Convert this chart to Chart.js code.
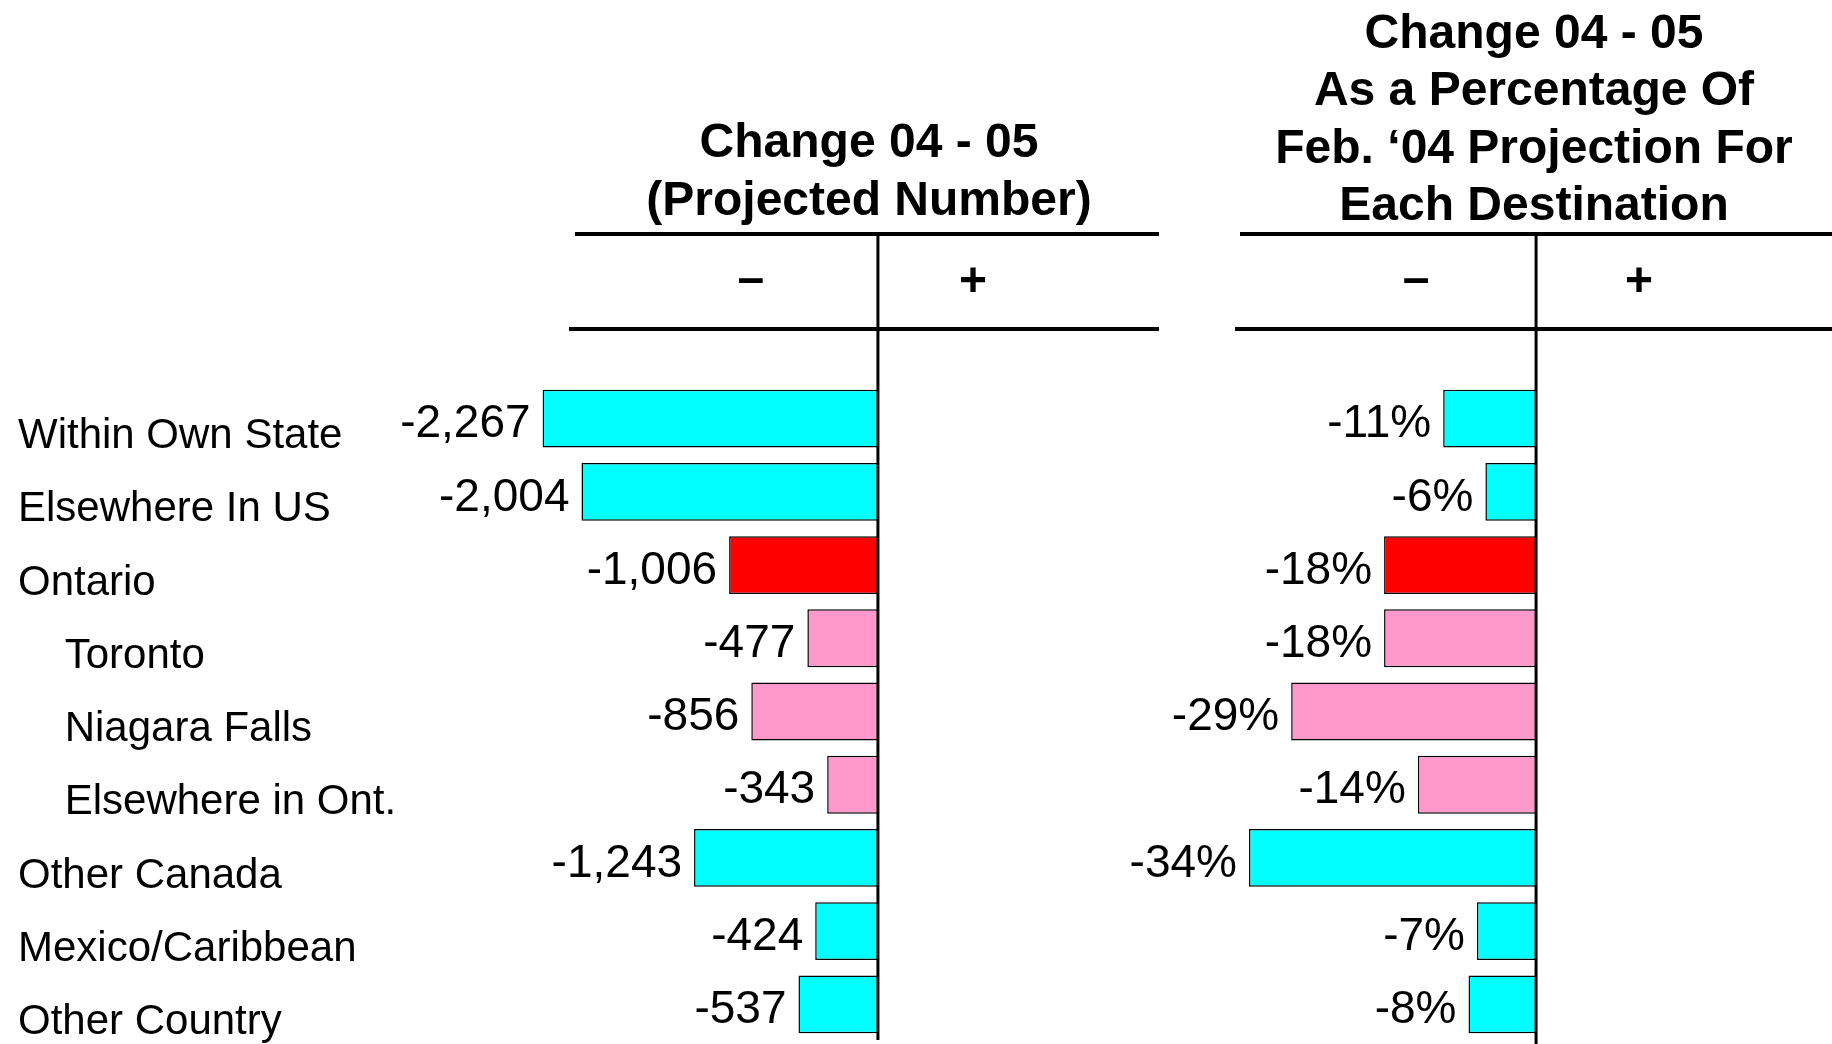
<!DOCTYPE html>
<html>
<head>
<meta charset="utf-8">
<script src="https://cdn.jsdelivr.net/npm/chart.js@4"></script>
<style>
  html, body { margin: 0; padding: 0; background: #fff; }
  body { width: 1832px; height: 1044px; position: relative; overflow: hidden; }
  #leftChart { position: absolute; left: 0; top: 0; }
  #rightChart { position: absolute; left: 1100px; top: 0; }
</style>
</head>
<body>
<canvas id="leftChart" width="1180" height="1044"></canvas>
<canvas id="rightChart" width="732" height="1044"></canvas>
<script>
const categories = ['Within Own State', 'Elsewhere In US', 'Ontario', 'Toronto', 'Niagara Falls',
  'Elsewhere in Ont.', 'Other Canada', 'Mexico/Caribbean', 'Other Country'];
const indented = ['Toronto', 'Niagara Falls', 'Elsewhere in Ont.'];
const changeNumber = [-2267, -2004, -1006, -477, -856, -343, -1243, -424, -537];
const changePercent = [-11, -6, -18, -18, -29, -14, -34, -7, -8];
const barColors = ['#00ffff', '#00ffff', '#ff0000', '#ff99cc', '#ff99cc', '#ff99cc', '#00ffff', '#00ffff', '#00ffff'];
const numberTitle = ['Change 04 - 05', '(Projected Number)'];
const percentTitle = ['Change 04 - 05', 'As a Percentage Of', 'Feb. \u201804 Projection For', 'Each Destination'];

const FONT = '"Liberation Sans", Arial, sans-serif';

// titles, rules, zero line, +/- signs and the value labels
const headerPlugin = {
  id: 'header',
  afterDatasetsDraw(chart, args, opts) {
    const ctx = chart.ctx;
    const zero = chart.scales.x.getPixelForValue(0);
    ctx.save();
    ctx.fillStyle = '#000';
    ctx.strokeStyle = '#000';
    ctx.font = 'bold 48px ' + FONT;
    ctx.textAlign = 'center';
    ctx.textBaseline = 'middle';
    opts.title.forEach((t, i) => ctx.fillText(t, opts.titleX, opts.titleY[i]));

    ctx.lineWidth = 4;
    ctx.beginPath();
    ctx.moveTo(opts.rule1[0], 234); ctx.lineTo(opts.rule1[1], 234);
    ctx.moveTo(opts.rule2[0], 329); ctx.lineTo(opts.rule2[1], 329);
    ctx.stroke();

    ctx.lineWidth = 3;
    ctx.beginPath();
    ctx.moveTo(zero, 236); ctx.lineTo(zero, opts.zeroBottom);
    ctx.stroke();

    ctx.fillText('\u2013', zero + opts.minusDx, 281);
    ctx.fillText('+', zero + opts.plusDx, 283);

    ctx.font = '46px ' + FONT;
    ctx.textAlign = 'right';
    chart.getDatasetMeta(0).data.forEach((bar, i) => {
      ctx.fillText(opts.valueLabels[i], bar.x - 12, bar.y + 6);
    });
    ctx.restore();
  }
};

new Chart(document.getElementById('leftChart'), {
  type: 'bar',
  data: {
    labels: categories,
    datasets: [{
      data: changeNumber,
      backgroundColor: barColors,
      borderColor: '#000',
      borderWidth: 1.5,
      barPercentage: 0.79,
      categoryPercentage: 1
    }]
  },
  options: {
    indexAxis: 'y',
    responsive: false,
    animation: false,
    layout: { padding: { left: 18, right: 21, top: 382, bottom: 3 } },
    scales: {
      x: { display: false, min: -2690, max: 1900 },
      y: {
        grid: { display: false },
        border: { display: false },
        ticks: {
          crossAlign: 'far',
          color: '#000',
          font: { size: 42, family: FONT },
          labelOffset: 18,
          callback: (v, i) => (indented.includes(categories[i]) ? '    ' : '') + categories[i]
        },
        afterFit: s => {
          s.width = 462;
          s.paddingTop = 0;
          s.paddingBottom = 0;
        }
      }
    },
    plugins: {
      legend: { display: false },
      tooltip: { enabled: false },
      header: {
        title: numberTitle,
        titleX: 869,
        titleY: [144, 202],
        rule1: [575, 1159],
        rule2: [569, 1159],
        zeroBottom: 1040,
        minusDx: -127,
        plusDx: 95,
        valueLabels: changeNumber.map(v => v.toLocaleString('en-US'))
      }
    }
  },
  plugins: [headerPlugin]
});

new Chart(document.getElementById('rightChart'), {
  type: 'bar',
  data: {
    labels: categories,
    datasets: [{
      data: changePercent,
      backgroundColor: barColors,
      borderColor: '#000',
      borderWidth: 1.5,
      barPercentage: 0.79,
      categoryPercentage: 1
    }]
  },
  options: {
    indexAxis: 'y',
    responsive: false,
    animation: false,
    layout: { padding: { left: 100, right: 8, top: 382, bottom: 3 } },
    scales: {
      x: { display: false, min: -39.8, max: 34.1 },
      y: { display: false }
    },
    plugins: {
      legend: { display: false },
      tooltip: { enabled: false },
      header: {
        title: percentTitle,
        titleX: 434,
        titleY: [35, 92, 150, 207],
        rule1: [140, 732],
        rule2: [135, 732],
        zeroBottom: 1044,
        minusDx: -120,
        plusDx: 103,
        valueLabels: changePercent.map(v => v + '%')
      }
    }
  },
  plugins: [headerPlugin]
});
</script>
</body>
</html>
